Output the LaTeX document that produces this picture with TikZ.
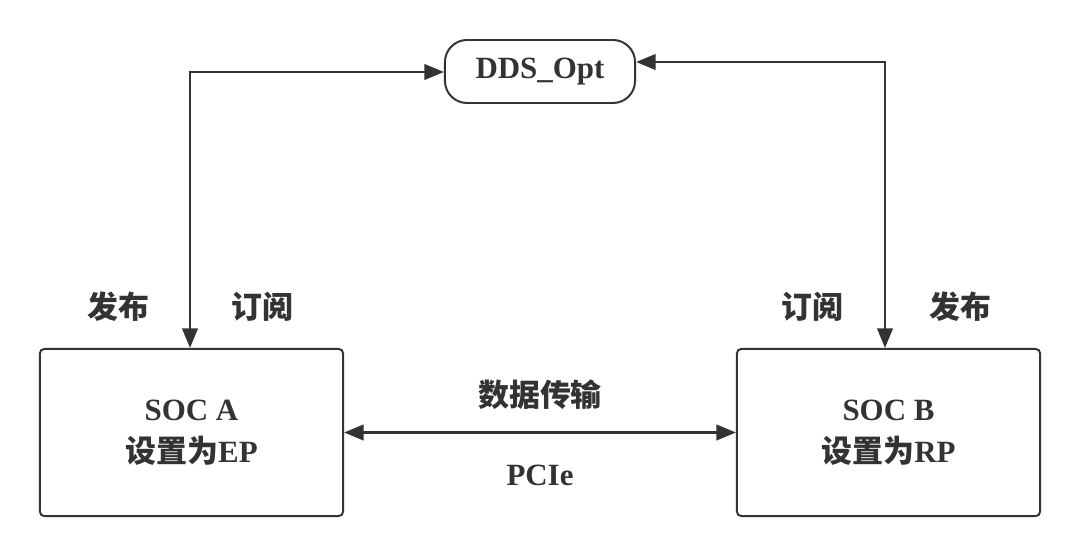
\documentclass[tikz,border=0pt]{standalone}
\usepackage{fontspec}
\setmainfont{Liberation Serif}
\newfontfamily\cjk{Noto Sans CJK SC}
\usetikzlibrary{arrows.meta}
\definecolor{ink}{HTML}{333333}

\begin{document}
\begin{tikzpicture}[x=0.025cm,y=-0.025cm,
  socbox/.style={draw=ink,line width=1.4pt,rounded corners=3pt,minimum width=7.575cm,minimum height=4.175cm,align=center,inner sep=0pt},
  ddsbox/.style={draw=ink,line width=1.4pt,rounded corners=0.55cm,minimum width=4.75cm,minimum height=1.575cm,inner sep=0pt},
  lbl/.style={text=ink,font=\fontsize{22}{30}\selectfont\bfseries},
  link/.style={draw=ink,line width=2pt,{Triangle[length=14pt,width=11pt]}-{Triangle[length=14pt,width=11pt]}}]
\useasboundingbox (0,0) rectangle (1080,558);
\node[socbox,lbl] (socA) at (191.5,432.5) {SOC A\\{\cjk\bfseries 设置为}EP};
\node[socbox,lbl] (socB) at (888.5,432.5) {SOC B\\{\cjk\bfseries 设置为}RP};
\node[ddsbox,lbl] (dds) at (540,71.5) {DDS\_Opt};
\coordinate (cA) at (190,72);
\coordinate (cB) at (885,62);
\draw[link] (socA.north -| cA) -- (cA) -- (dds.west |- cA);
\draw[link] (dds.east |- cB) -- (cB) -- (socB.north -| cB);
\draw[link] (socA.east) -- (socB.west);
% labels
\node[lbl] (pubA) at (118,307) {\cjk\bfseries 发布};
\node[lbl] (subA) at (262,307) {\cjk\bfseries 订阅};
\node[lbl] (subB) at (812,307) {\cjk\bfseries 订阅};
\node[lbl] (pubB) at (960,307) {\cjk\bfseries 发布};
\node[lbl] (trans) at (540,395) {\cjk\bfseries 数据传输};
\node[lbl] (pcie) at (540,475) {PCIe};
\end{tikzpicture}
\end{document}
